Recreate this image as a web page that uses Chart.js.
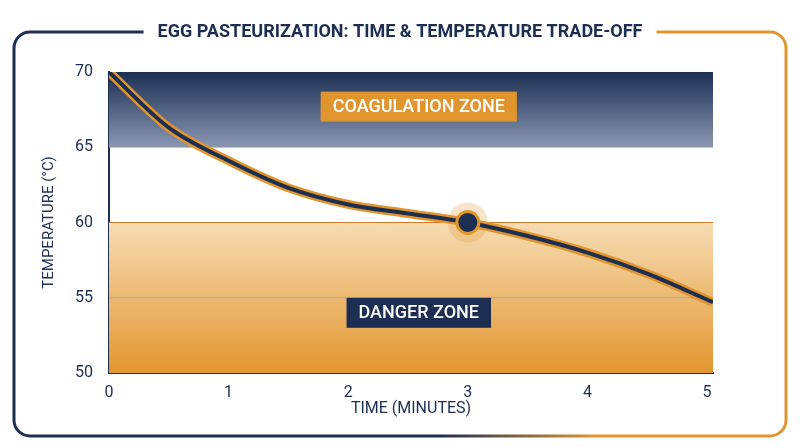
<!DOCTYPE html>
<html><head><meta charset="utf-8">
<script src="https://cdn.jsdelivr.net/npm/chart.js@4/dist/chart.umd.min.js"></script>
<style>html,body{margin:0;padding:0;background:#fff}#w{width:800px;height:447px}</style>
</head><body><div id="w"><canvas id="c" width="800" height="447"></canvas></div>
<script>
const NAVY='#1c2e52', ORANGE='#e0952e';
const timeMin=[0,0.5,1,1.5,2,2.5,3,3.5,4,4.5,5.05];
const tempC=[70,66.3,64.1,62.3,61.2,60.6,60,59.1,58,56.6,54.7];
const marker=[{x:3,y:60}];
const xTicks=[0,1,2,3,4,5];
const yTicks=[50,55,60,65,70];
const zones=[{from:65,to:70,label:'COAGULATION ZONE',ly:67.7,box:ORANGE},{from:50,to:60,label:'DANGER ZONE',ly:54,box:NAVY}];
const pts=timeMin.map((x,i)=>({x,y:tempC[i]}));

const bg={id:'bg',beforeDatasetsDraw(ch){
 const {ctx,chartArea:a,scales:{x,y}}=ch;
 ctx.save();
 zones.forEach((z,i)=>{
  const t=y.getPixelForValue(z.to),b=y.getPixelForValue(z.from);
  const g=ctx.createLinearGradient(0,t,0,b);
  if(i===0){g.addColorStop(0,'#1c2e52');g.addColorStop(1,'#8a97b3');}
  else{g.addColorStop(0,'#f6dcb3');g.addColorStop(1,'#e2962f');}
  ctx.fillStyle=g;ctx.fillRect(a.left,t,a.right-a.left,b-t);
 });
 [55,65].forEach(v=>{const p=y.getPixelForValue(v);ctx.strokeStyle='rgba(160,160,170,0.7)';ctx.lineWidth=1;ctx.beginPath();ctx.moveTo(a.left,p);ctx.lineTo(a.right,p);ctx.stroke();});
 const p60=y.getPixelForValue(60);ctx.strokeStyle='#d07a2a';ctx.lineWidth=1;ctx.beginPath();ctx.moveTo(a.left,p60);ctx.lineTo(a.right,p60);ctx.stroke();
 ctx.font='500 18px Roboto';ctx.textAlign='center';ctx.textBaseline='middle';
 zones.forEach(z=>{const cx=x.getPixelForValue(2.59),cy=y.getPixelForValue(z.ly);const w=ctx.measureText(z.label).width+24;
  ctx.fillStyle=z.box;ctx.fillRect(cx-w/2,cy-15,w,30);ctx.fillStyle='#fff';ctx.fillText(z.label,cx,cy+1);});
 const mx=x.getPixelForValue(3),my=y.getPixelForValue(60);
 ctx.fillStyle='rgba(224,149,46,0.25)';ctx.beginPath();ctx.arc(mx,my,20,0,7);ctx.fill();
 ctx.restore();
},
afterDraw(ch){
 const {ctx}=ch;ctx.save();
 const g=ctx.createLinearGradient(12,0,788,0);g.addColorStop(0,NAVY);g.addColorStop(0.55,NAVY);g.addColorStop(0.75,ORANGE);g.addColorStop(1,ORANGE);
 ctx.strokeStyle=g;ctx.lineWidth=3;ctx.beginPath();ctx.roundRect(14,32,772,404,16);ctx.stroke();
 ctx.font='bold 18px Roboto';ctx.textAlign='center';ctx.textBaseline='middle';
 const tw=ctx.measureText('EGG PASTEURIZATION: TIME & TEMPERATURE TRADE-OFF').width;
 ctx.fillStyle='#fff';ctx.fillRect(400-tw/2-14,20,tw+28,26);
 ctx.fillStyle=NAVY;ctx.fillText('EGG PASTEURIZATION: TIME & TEMPERATURE TRADE-OFF',400,32);
 ctx.restore();
}};

new Chart(document.getElementById('c'),{
 type:'line',
 data:{datasets:[
  {data:marker,type:'scatter',pointRadius:11,pointBackgroundColor:NAVY,pointBorderColor:ORANGE,pointBorderWidth:3,order:0},
  {data:pts,borderColor:NAVY,borderWidth:4,cubicInterpolationMode:'monotone',pointRadius:0,order:1},
  {data:pts,borderColor:ORANGE,borderWidth:9,cubicInterpolationMode:'monotone',pointRadius:0,order:2}
 ]},
 options:{responsive:false,animation:false,devicePixelRatio:1,
  layout:{padding:{top:72,right:87,left:40,bottom:28}},
  plugins:{legend:{display:false},tooltip:{enabled:false}},
  scales:{
   x:{type:'linear',min:0,max:5.05,afterBuildTicks(s){s.ticks=xTicks.map(v=>({value:v}));},
      grid:{display:false},border:{color:NAVY,width:2},
      ticks:{color:NAVY,font:{size:16,family:'Roboto'},padding:2},
      title:{display:true,text:'TIME (MINUTES)',color:NAVY,font:{size:16,family:'Roboto'},padding:{top:4,bottom:0}},
      afterFit(s){s.height=46;}},
   y:{min:50,max:70,afterBuildTicks(s){s.ticks=yTicks.map(v=>({value:v}));},
      grid:{display:false},border:{color:NAVY,width:2},
      ticks:{color:NAVY,font:{size:16,family:'Roboto'},padding:8},
      title:{display:true,text:'TEMPERATURE (°C)',color:NAVY,font:{size:15,family:'Roboto'},padding:0},
      afterFit(s){s.width=69;}}
  }},
 plugins:[bg]
});
</script></body></html>
